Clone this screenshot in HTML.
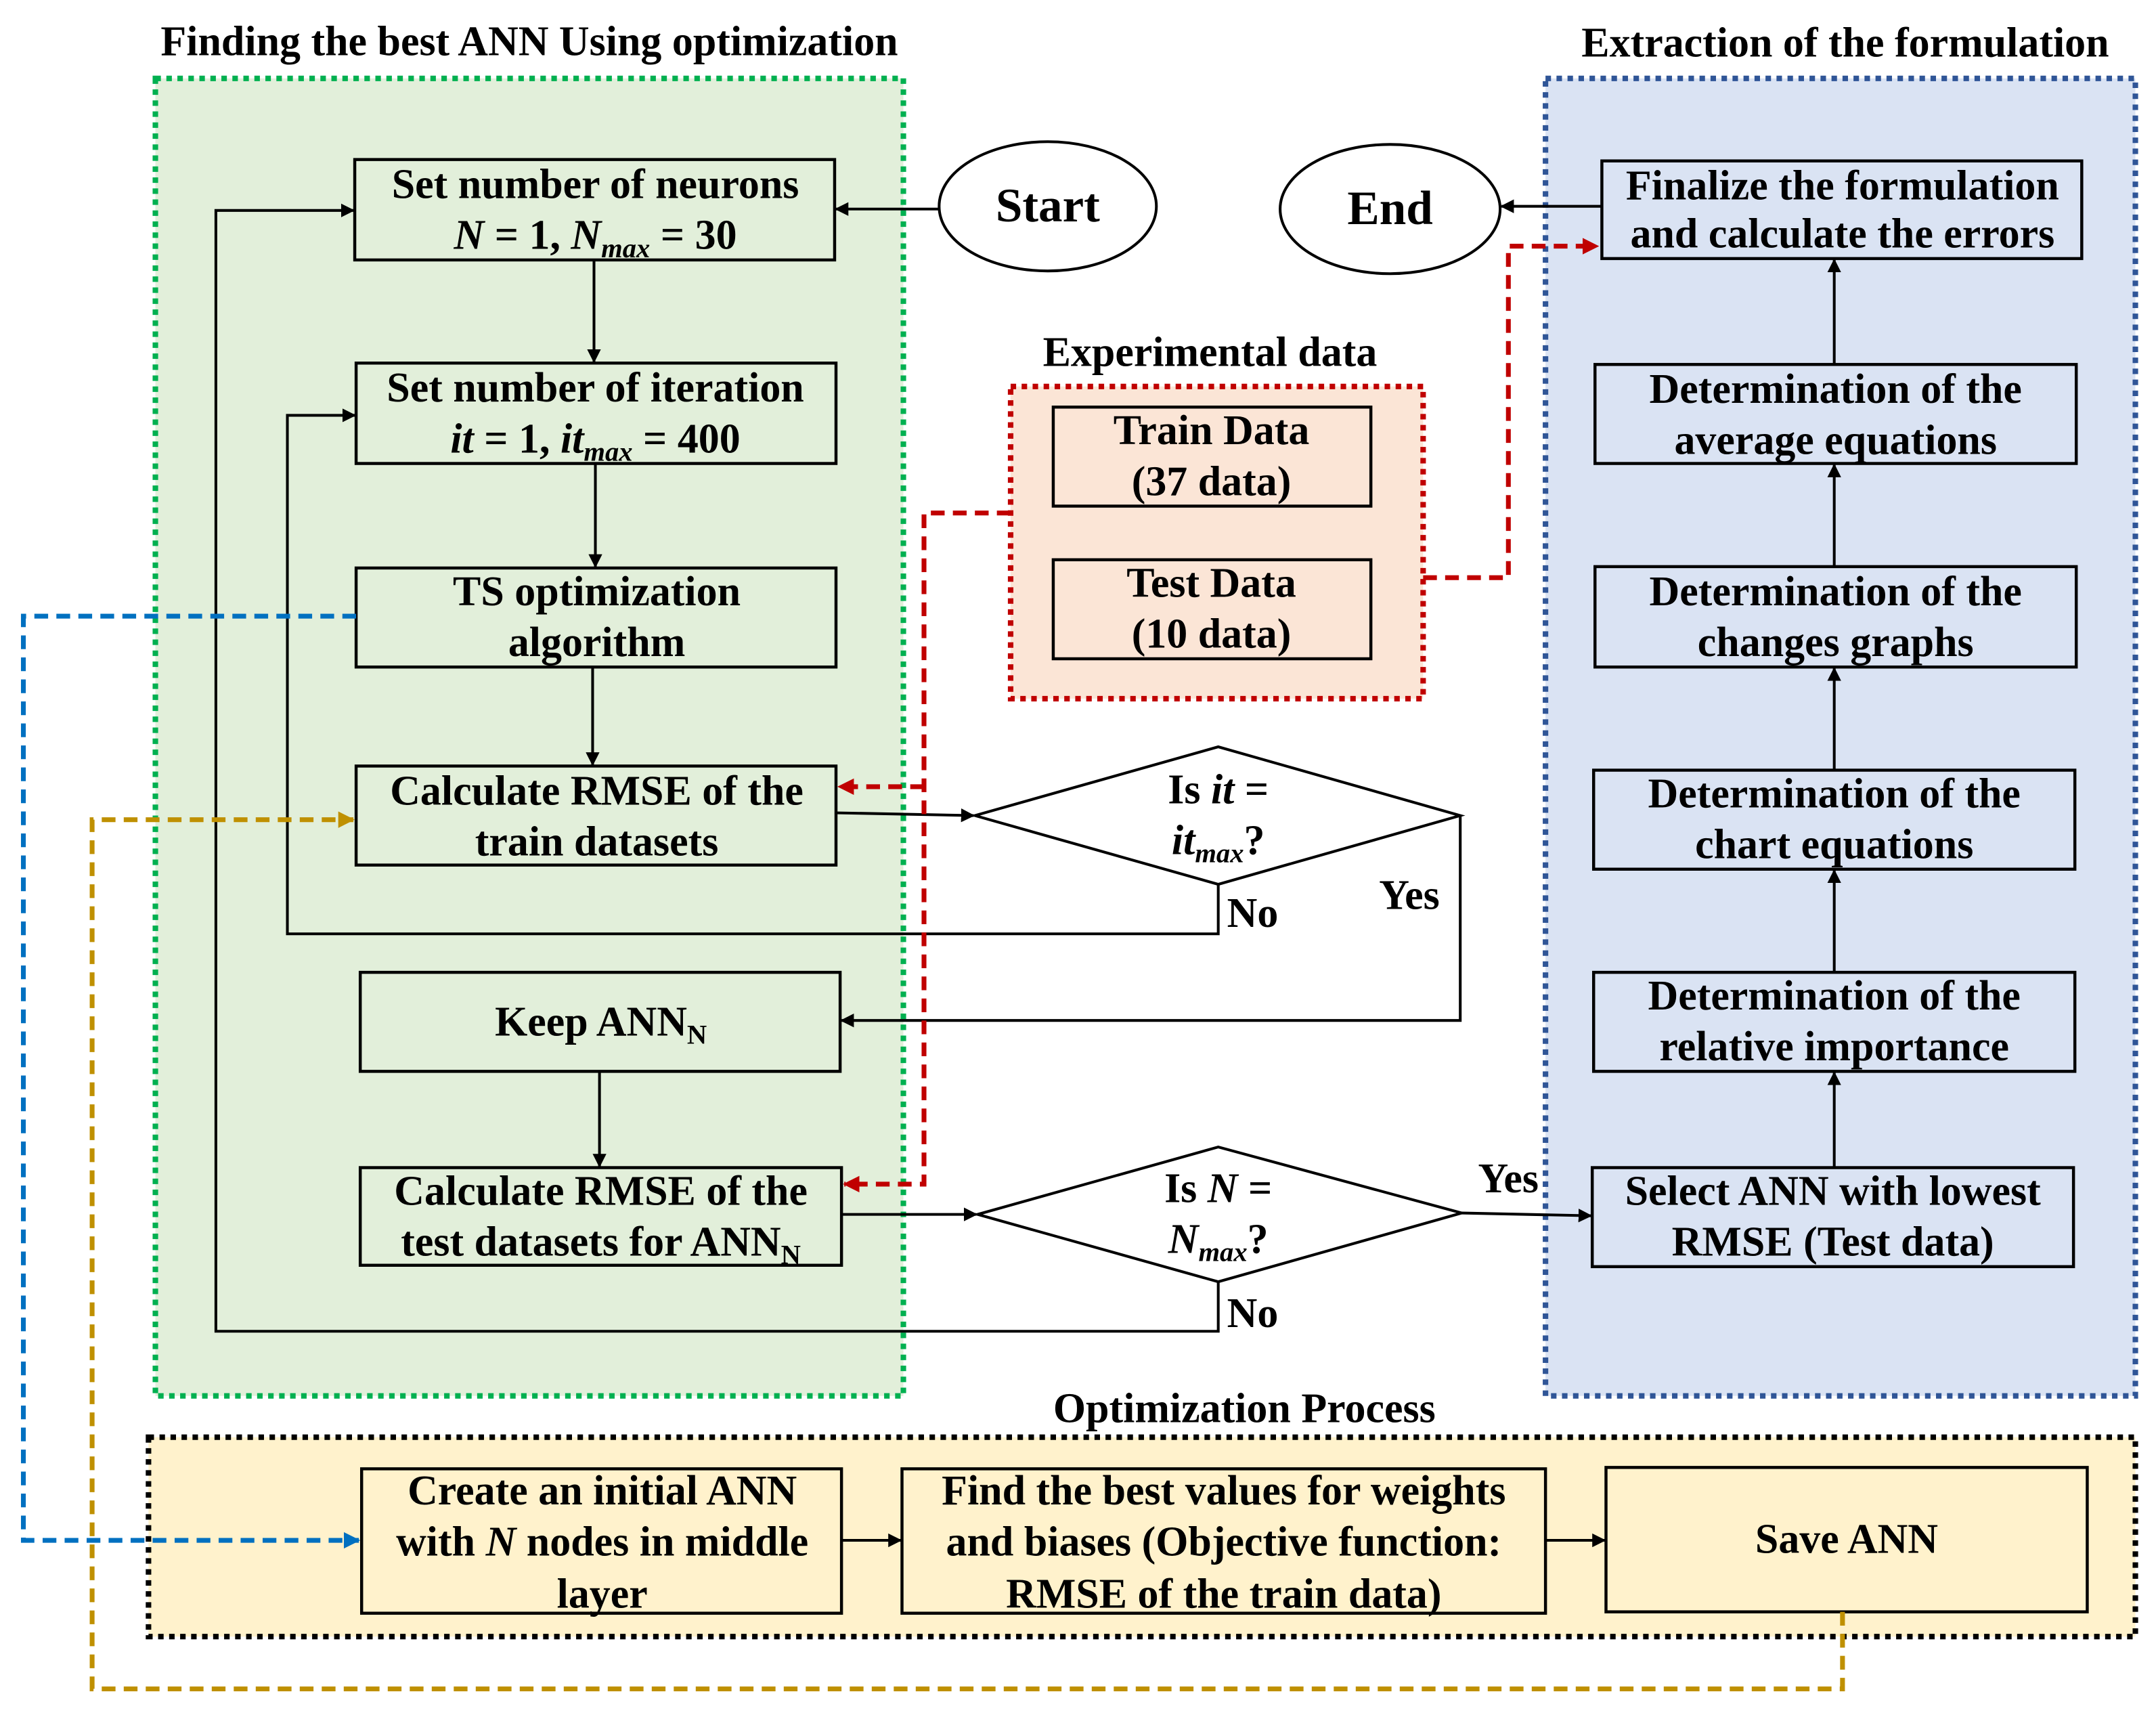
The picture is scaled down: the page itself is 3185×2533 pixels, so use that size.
<!DOCTYPE html>
<html><head><meta charset="utf-8"><style>html,body{margin:0;padding:0;background:#fff}svg{display:block}</style></head>
<body>
<svg xmlns="http://www.w3.org/2000/svg" width="3185" height="2533" viewBox="0 0 1568 1247" font-family="'Liberation Serif', serif" font-weight="bold" font-size="30.5">
<defs>
<marker id="a" markerWidth="10" markerHeight="10" refX="9" refY="5" orient="auto" markerUnits="userSpaceOnUse"><path d="M0,0 L10,5 L0,10 z" fill="#000"/></marker>
<marker id="r" markerWidth="12" markerHeight="12" refX="11" refY="6" orient="auto" markerUnits="userSpaceOnUse"><path d="M0,0 L12,6 L0,12 z" fill="#c00000"/></marker>
<marker id="b" markerWidth="12" markerHeight="12" refX="11" refY="6" orient="auto" markerUnits="userSpaceOnUse"><path d="M0,0 L12,6 L0,12 z" fill="#0070c0"/></marker>
<marker id="g" markerWidth="12" markerHeight="12" refX="11" refY="6" orient="auto" markerUnits="userSpaceOnUse"><path d="M0,0 L12,6 L0,12 z" fill="#bf9000"/></marker>
</defs>
<rect width="1568" height="1247" fill="#fff"/>
<rect x="113" y="57" width="544" height="958" fill="#e2efda" stroke="#00b050" stroke-width="4" stroke-dasharray="4,4"/>
<rect x="1124" y="57" width="429" height="958" fill="#dae3f3" stroke="#2f5597" stroke-width="4" stroke-dasharray="4,4"/>
<rect x="108" y="1045" width="1445" height="145" fill="#fff2cc" stroke="#000" stroke-width="4" stroke-dasharray="4,4"/>
<rect x="735" y="281" width="300" height="227" fill="#fbe5d6" stroke="#c00000" stroke-width="4" stroke-dasharray="4,4"/>
<g text-anchor="middle">
<text x="385" y="40">Finding the best ANN Using optimization</text>
<text x="1342" y="41">Extraction of the formulation</text>
<text x="905" y="1034">Optimization Process</text>
<text x="880" y="266">Experimental data</text>
</g>
<g fill="#e2efda" stroke="#000" stroke-width="2.2">
<rect x="258" y="116" width="349" height="73"/>
<rect x="259" y="264" width="349" height="73"/>
<rect x="259" y="413" width="349" height="72"/>
<rect x="259" y="557" width="349" height="72"/>
<rect x="262" y="707" width="349" height="72"/>
<rect x="262" y="849" width="350" height="71"/>
</g>
<g fill="#fbe5d6" stroke="#000" stroke-width="2.2">
<rect x="766" y="296" width="231" height="72"/>
<rect x="766" y="407" width="231" height="72"/>
</g>
<g fill="#dae3f3" stroke="#000" stroke-width="2.2">
<rect x="1165" y="117" width="349" height="71"/>
<rect x="1160" y="265" width="350" height="72"/>
<rect x="1160" y="412" width="350" height="73"/>
<rect x="1159" y="560" width="350" height="72"/>
<rect x="1159" y="707" width="350" height="72"/>
<rect x="1158" y="849" width="350" height="72"/>
</g>
<g fill="#fff2cc" stroke="#000" stroke-width="2.2">
<rect x="263" y="1068" width="349" height="105"/>
<rect x="656" y="1068" width="468" height="105"/>
<rect x="1168" y="1067" width="350" height="105"/>
</g>
<g fill="#fff" stroke="#000" stroke-width="2">
<ellipse cx="762" cy="150" rx="79" ry="47"/>
<ellipse cx="1011" cy="152" rx="80" ry="47"/>
<path d="M709,593 L886,543 L1062,593 L886,643 Z"/>
<path d="M711,883 L886,834 L1063,882 L886,932 Z"/>
</g>
<g fill="none" stroke="#000" stroke-width="2" marker-end="url(#a)">
<path d="M683,152 H608"/>
<path d="M432,189 V263"/>
<path d="M433,337 V412"/>
<path d="M431,485 V556"/>
<path d="M607,591 L708,593"/>
<path d="M886,643 V679 H209 V302 H258"/>
<path d="M1062,593 V742 H612"/>
<path d="M436,779 V848"/>
<path d="M612,883 H710"/>
<path d="M886,932 V968 H157 V153 H257"/>
<path d="M1063,882 L1157,884"/>
<path d="M1334,849 V780"/>
<path d="M1334,707 V633"/>
<path d="M1334,560 V486"/>
<path d="M1334,412 V338"/>
<path d="M1334,265 V189"/>
<path d="M1165,150 H1092"/>
<path d="M612,1120 H655"/>
<path d="M1124,1120 H1167"/>
</g>
<g fill="none" stroke-width="3.5" stroke-dasharray="10,6">
<path d="M1035,420 H1097 V179 H1162" stroke="#c00000" marker-end="url(#r)"/>
<path d="M735,373 H672 V861 H614" stroke="#c00000" marker-end="url(#r)"/>
<path d="M672,572 H610" stroke="#c00000" marker-end="url(#r)"/>
<path d="M259,448 H17 V1120 H261" stroke="#0070c0" marker-end="url(#b)"/>
<path d="M1340,1172 V1228 H67 V596 H257" stroke="#bf9000" marker-end="url(#g)"/>
</g>
<g text-anchor="middle" fill="#000">
<text x="433" y="144">Set number of neurons</text>
<text x="433" y="181"><tspan font-style="italic">N</tspan> = 1, <tspan font-style="italic">N</tspan><tspan font-style="italic" font-size="20" dy="6">max</tspan><tspan dy="-6"> = 30</tspan></text>
<text x="433" y="292">Set number of iteration</text>
<text x="433" y="329"><tspan font-style="italic">it</tspan> = 1, <tspan font-style="italic">it</tspan><tspan font-style="italic" font-size="20" dy="6">max</tspan><tspan dy="-6"> = 400</tspan></text>
<text x="434" y="440">TS optimization</text>
<text x="434" y="477">algorithm</text>
<text x="434" y="585">Calculate RMSE of the</text>
<text x="434" y="622">train datasets</text>
<text x="437" y="753">Keep ANN<tspan font-size="20" dy="6">N</tspan></text>
<text x="437" y="876">Calculate RMSE of the</text>
<text x="437" y="913">test datasets for ANN<tspan font-size="20" dy="6">N</tspan></text>
<text x="762" y="161" font-size="35">Start</text>
<text x="1011" y="163" font-size="35">End</text>
<text x="881" y="323">Train Data</text>
<text x="881" y="360">(37 data)</text>
<text x="881" y="434">Test Data</text>
<text x="881" y="471">(10 data)</text>
<text x="886" y="584">Is <tspan font-style="italic">it</tspan> =</text>
<text x="886" y="621"><tspan font-style="italic">it</tspan><tspan font-style="italic" font-size="20" dy="6">max</tspan><tspan dy="-6">?</tspan></text>
<text x="886" y="874">Is <tspan font-style="italic">N</tspan> =</text>
<text x="886" y="911"><tspan font-style="italic">N</tspan><tspan font-style="italic" font-size="20" dy="6">max</tspan><tspan dy="-6">?</tspan></text>
<text x="911" y="674">No</text>
<text x="1025" y="661">Yes</text>
<text x="911" y="965">No</text>
<text x="1097" y="867">Yes</text>
<text x="1340" y="145">Finalize the formulation</text>
<text x="1340" y="180">and calculate the errors</text>
<text x="1335" y="293">Determination of the</text>
<text x="1335" y="330">average equations</text>
<text x="1335" y="440">Determination of the</text>
<text x="1335" y="477">changes graphs</text>
<text x="1334" y="587">Determination of the</text>
<text x="1334" y="624">chart equations</text>
<text x="1334" y="734">Determination of the</text>
<text x="1334" y="771">relative importance</text>
<text x="1333" y="876">Select ANN with lowest</text>
<text x="1333" y="913">RMSE (Test data)</text>
<text x="438" y="1094">Create an initial ANN</text>
<text x="438" y="1131">with <tspan font-style="italic">N</tspan> nodes in middle</text>
<text x="438" y="1169">layer</text>
<text x="890" y="1094">Find the best values for weights</text>
<text x="890" y="1131">and biases (Objective function:</text>
<text x="890" y="1169">RMSE of the train data)</text>
<text x="1343" y="1129">Save ANN</text>
</g>
</svg>
</body></html>
